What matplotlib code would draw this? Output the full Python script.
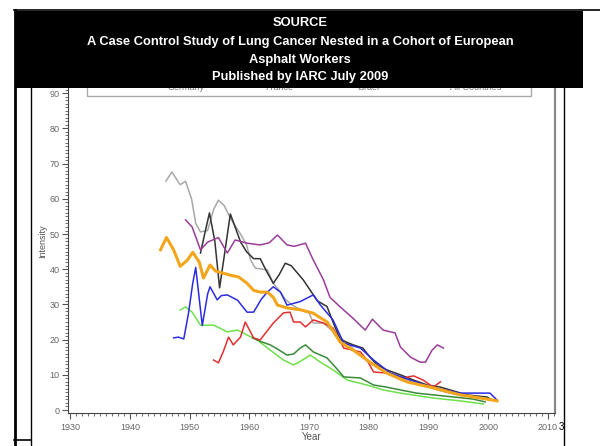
import numpy as np
import matplotlib
matplotlib.use('Agg')
from matplotlib import pyplot as plt
from matplotlib.lines import Line2D
from matplotlib.patches import Rectangle
from matplotlib.ticker import MultipleLocator

plt.rcParams['font.family'] = ['Liberation Sans', 'DejaVu Sans']

# values (year, intensity)
gray_years = [1946, 1947, 1948.4, 1949.3, 1950.3, 1951, 1951.8, 1953, 1954, 1954.8, 1955.8, 1956.8, 1958.5,
              1959.5, 1960.2, 1961, 1963, 1964, 1965, 1966, 1967, 1968.5, 1970, 1970.7, 1972.4, 1974.7, 1976,
              1978, 1980, 1982, 1985, 1988, 1990, 1993, 1996, 2000]
gray_vals = [65, 67.6, 64, 65, 60, 53, 50.6, 51, 57, 59.6, 58, 54.5, 50, 47, 42.6, 40.3, 39.8, 36, 34, 31.5,
             30, 28.5, 27.6, 24.7, 24.7, 21.3, 19.5, 16.5, 13.5, 11.5, 9.5, 7.5, 6.5, 5.0, 4.0, 3.0]

black_years = [1951.8, 1952.5, 1953.3, 1954.2, 1955, 1955.8, 1956.8, 1957.6, 1958.5, 1959.5, 1960.7, 1961.8,
               1963, 1964, 1965, 1966, 1967, 1968, 1969, 1970.2, 1971.4, 1973, 1974, 1975.2, 1977.4, 1979,
               1980.2, 1981.4, 1983, 1985.3, 1987.5, 1989.8, 1992, 1994, 1996.4, 1998, 1999.8, 2000.5]
black_vals = [44.6, 50, 56, 48, 34.7, 44, 55.7, 52, 47.8, 45, 43, 43, 39, 36, 38.5, 41.7, 41, 39, 37, 34, 31,
              29.4, 25, 20, 18.5, 17.6, 15, 12.8, 11.4, 10, 8.5, 7.1, 6.5, 5.5, 4.3, 4.0, 3.7, 3.0]

purple_years = [1949.3, 1950.4, 1951.8, 1953, 1954.8, 1956.3, 1957.6, 1959.6, 1961.8, 1963.3, 1964.7, 1966.3,
                1967.5, 1969.4, 1970.7, 1972.4, 1973.5, 1975.2, 1977.4, 1979.4, 1980.6, 1982.4, 1984.4,
                1985.3, 1987, 1988.6, 1989.5, 1990.6, 1991.5, 1992.5]
purple_vals = [54, 52, 45.5, 47.7, 49, 44.6, 48.3, 47.4, 46.9, 47.5, 49.7, 46.9, 46.5, 47.4, 42.6, 37, 32,
               29.3, 26, 22.7, 25.8, 22.7, 21.9, 17.9, 15, 13.6, 13.6, 17, 18.5, 17.6]

orange_years = [1945.1, 1946.1, 1947.3, 1948.4, 1949.6, 1950.5, 1951.6, 1952.3, 1953.4, 1954.3, 1955.3,
                1956.8, 1958.2, 1959.6, 1960.7, 1961.8, 1963, 1964, 1964.7, 1966.3, 1968.5, 1970.7, 1973,
                1974.2, 1975.2, 1977.4, 1980.2, 1983, 1986.4, 1990.8, 1995.3, 1998.7, 2001.5]
orange_vals = [45.5, 49, 45.5, 40.8, 42.6, 44.8, 42, 37.5, 41.2, 39.5, 39, 38.3, 37.8, 36, 34, 33.5, 33.5,
               32, 29.8, 29, 28.5, 27.5, 25, 22, 19.3, 17, 13.6, 10.5, 8, 6.3, 4.3, 3.4, 2.6]

blue_years = [1947.3, 1948.1, 1949, 1949.8, 1950.5, 1951, 1951.5, 1952.1, 1953, 1953.4, 1954.6, 1955.3,
              1956.3, 1958, 1959.6, 1960.7, 1962, 1963, 1964, 1965.2, 1966.3, 1968.5, 1970.7, 1971.9, 1974,
              1975.8, 1978.6, 1980.8, 1983.6, 1987, 1990.8, 1995.3, 1997.5, 2000.3, 2001.5]
blue_vals = [20.5, 20.7, 20.2, 27.6, 36, 40.5, 33, 24, 33, 35, 31.3, 32.5, 32.7, 31.2, 27.8, 27.8, 31.5,
             33.5, 35, 33.5, 29.8, 30.8, 32.7, 29.8, 25.6, 19, 17.6, 14.2, 10.5, 8.5, 6.3, 4.8, 4.8, 4.8, 2.8]

lgreen_years = [1948.4, 1949.3, 1950.4, 1951.8, 1954, 1956.3, 1958, 1959.6, 1961.3, 1963.5, 1965.7, 1967.4,
                1968.5, 1970.2, 1971.9, 1974, 1976.4, 1979.7, 1982.4, 1985.3, 1990.8, 1995.3, 1999.2]
lgreen_vals = [28.4, 29.3, 27.8, 24.1, 24.1, 22.2, 22.7, 21.3, 19.9, 17, 14.2, 12.8, 13.8, 15.6, 13.6, 11.4,
               8.5, 7.1, 5.7, 4.8, 3.4, 2.6, 1.7]

dgreen_years = [1960.5, 1961.8, 1963.5, 1965, 1966.3, 1967.4, 1968.5, 1969.4, 1970.7, 1973, 1974.5, 1975.8,
                1978.6, 1980.8, 1983, 1985.3, 1988, 1990.8, 1994.2, 1997.5, 1999.5]
dgreen_vals = [20.5, 19.5, 18.5, 17, 15.6, 15.9, 17.6, 18.5, 16.5, 14.8, 12, 9.4, 9.1, 7.1, 6.5, 5.7, 4.8,
               4.3, 3.7, 3.1, 2.3]

red_years = [1954, 1954.8, 1955.6, 1956.5, 1957.3, 1958.5, 1959.3, 1960.7, 1961.8, 1964, 1965.7, 1966.8,
             1967.4, 1968.5, 1969.4, 1970.7, 1972.4, 1974, 1975.8, 1978.6, 1979.7, 1980.8, 1983, 1985.8,
             1987.5, 1989.1, 1990.8, 1992]
red_vals = [14.2, 13.4, 16.5, 20.7, 18.5, 20.7, 25, 20.5, 19.9, 24.7, 27.6, 27.8, 25, 25, 23.6, 25.6, 24.7,
            23.3, 17.6, 16.5, 14.2, 10.8, 10.5, 9.1, 9.7, 8.5, 6.5, 8.0]

legend_labels = ['Germany', 'France', 'Israel', 'All Countries']
title_lines = ['SOURCE',
               'A Case Control Study of Lung Cancer Nested in a Cohort of European',
               'Asphalt Workers',
               'Published by IARC July 2009']

W, H = 600, 446


def fx(x):
    return x / W


def fy(y):
    return 1 - y / H


fig = plt.figure(figsize=(6, 4.46), dpi=100)
ax = fig.add_axes([fx(68), fy(413), fx(555) - fx(68), fy(70) - fy(413)])

ax.plot(gray_years, gray_vals, color='#a8a8a8', lw=1.1)
ax.plot(black_years, black_vals, color='#333333', lw=1.1)
ax.plot(purple_years, purple_vals, color='#993d99', lw=1.1)
ax.plot(lgreen_years, lgreen_vals, color='#6ee04a', lw=1.1)
ax.plot(dgreen_years, dgreen_vals, color='#3a8a3a', lw=1.1)
ax.plot(red_years, red_vals, color='#e23030', lw=1.1)
ax.plot(blue_years, blue_vals, color='#2b2be0', lw=1.1)
ax.plot(orange_years, orange_vals, color='#f3a51c', lw=2.2)

ax.set_xlim(1929.6, 2011.2)
ax.set_ylim(-0.85, 96.6)
ax.xaxis.set_major_locator(MultipleLocator(10))
ax.xaxis.set_minor_locator(MultipleLocator(1))
ax.yaxis.set_major_locator(MultipleLocator(10))
ax.yaxis.set_minor_locator(MultipleLocator(1))
ax.set_yticks(range(0, 91, 10))
ax.tick_params(which='major', length=4, width=0.8, color='#555555', labelsize=6.5,
               labelcolor='#666666', pad=2)
ax.tick_params(which='major', axis='x', pad=3)
ax.tick_params(which='minor', length=2, width=0.6, color='#555555')
for side in ['left', 'bottom']:
    ax.spines[side].set_color('#444444')
ax.spines['right'].set_color('#888888')
ax.spines['right'].set_linewidth(1.6)
ax.spines['top'].set_visible(False)
ax.set_ylabel('Intensity', fontsize=6.5, color='#555555', labelpad=2)
ax.set_xlabel('Year', fontsize=7, color='#555555', labelpad=0)

# legend box, mostly covered by the black banner
fig.add_artist(Rectangle((fx(87), fy(96)), fx(531) - fx(87), fy(60) - fy(96), transform=fig.transFigure,
                         facecolor='white', edgecolor='#aaaaaa', lw=1.0, zorder=5))
leg_x = [167, 265, 357, 450]
for x0, lab in zip(leg_x, legend_labels):
    fig.text(fx(x0), fy(89.5), lab, fontsize=6.5, color='#777777', va='baseline', zorder=6)
    fig.add_artist(Line2D([fx(x0 - 30), fx(x0 - 8)], [fy(86), fy(86)], color='#999999', lw=1,
                          zorder=6))

# black banner with the source text
fig.add_artist(Rectangle((fx(16), fy(88)), fx(583) - fx(16), fy(11) - fy(88), transform=fig.transFigure,
                         facecolor='black', edgecolor='none', zorder=10))
for yy, line in zip([23, 42, 60, 77], title_lines):
    fig.text(0.5, fy(yy), line, color='white', fontsize=9.3, fontweight='bold', ha='center', va='center',
             zorder=11)

# page frame lines
frame = [([14, 600], [10, 10], 1.2), ([15, 15], [10, 446], 2.0), ([31, 31], [88, 446], 1.0),
         ([14, 31], [440, 440], 1.2), ([564, 564], [88, 446], 1.0)]
for xs, ys, lw in frame:
    fig.add_artist(Line2D([fx(v) for v in xs], [fy(v) for v in ys], color='black', lw=lw, zorder=12))

fig.text(fx(559), fy(427), '3', fontsize=7, color='black', va='center')

fig.savefig('out.png', dpi=100)
